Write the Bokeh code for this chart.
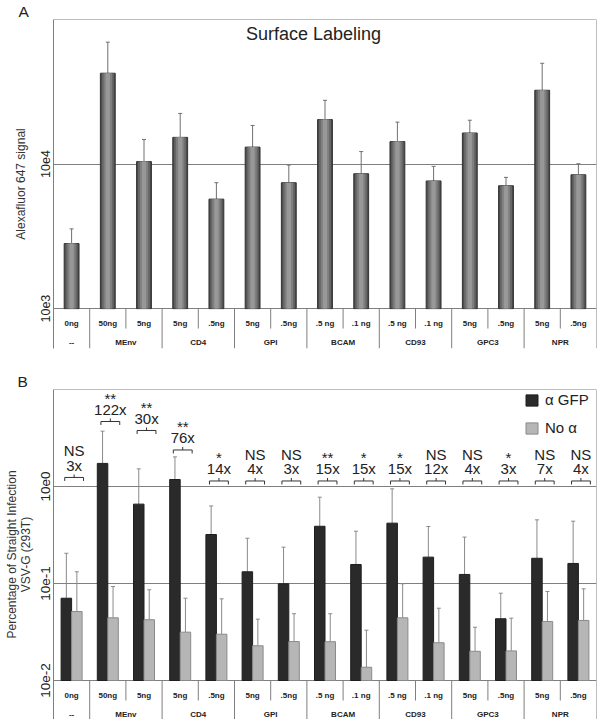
import math
from bokeh.plotting import figure
from bokeh.models import (FactorRange, Range1d, ColumnDataSource, FixedTicker, Span,
                          Label, Legend, LegendItem, Title)
from bokeh.transform import dodge
from bokeh.layouts import column
from bokeh.embed import file_html
from bokeh.resources import INLINE
from bokeh.core.properties import value

# ---------------- data ----------------
groups = ["--", "MEnv", "CD4", "GPI", "BCAM", "CD93", "GPC3", "NPR"]
doses = [["0ng"], ["50ng", "5ng"], ["5ng", ".5ng"], ["5ng", ".5ng"],
         [".5 ng", ".1 ng"], [".5 ng", ".1 ng"], ["5ng", ".5ng"], ["5ng", ".5ng"]]

# Panel A: Alexafluor 647 surface signal (mean and top of error bar)
surface_signal = [28200, 425000, 104000, 153000, 57200, 131000, 74300, 203000,
                  85700, 143000, 76400, 164000, 70800, 324000, 84300]
surface_upper = [35600, 697000, 148000, 224000, 74300, 185000, 98400, 276000,
                 122000, 195000, 96400, 201000, 80900, 498000, 100500]
a_ticks = [1e4, 1e5]
a_tick_labels = ["10e3", "10e4"]

# Panel B: percentage of straight infection
gfp_pct = [0.705, 17.3, 6.58, 11.8, 3.20, 1.32, 0.993, 3.89, 1.57, 4.19, 1.87,
           1.24, 0.433, 1.82, 1.61]
gfp_upper = [2.05, 37.2, 15.2, 20.2, 6.30, 2.93, 2.37, 7.76, 3.46, 9.46, 3.87,
             3.01, 0.794, 4.53, 4.39]
noab_pct = [0.514, 0.443, 0.423, 0.315, 0.300, 0.228, 0.252, 0.251, 0.137, 0.443,
            0.245, 0.200, 0.202, 0.406, 0.416]
noab_upper = [1.32, 0.931, 0.861, 0.705, 0.695, 0.429, 0.488, 0.488, 0.330, 0.993,
              0.556, 0.354, 0.439, 0.828, 0.881]
significance = ["NS", "**", "**", "**", "*", "NS", "NS", "**", "*", "*", "NS",
                "NS", "*", "NS", "NS"]
fold_change = ["3x", "122x", "30x", "76x", "14x", "4x", "3x", "15x", "15x", "15x",
               "12x", "4x", "3x", "7x", "4x"]
b_ticks = [0.1, 1, 10]
b_tick_labels = ["10e-2", "10e-1", "10e0"]

# annotation layout (bracket heights on the B axis)
bracket_level = [12.4, 46.8, 37.8, 23.8] + [11.4] * 11

# ---------------- layout / style ----------------
FONT_NAME = "Liberation Sans"
FONT = value(FONT_NAME)
W = 598
RIGHT = 2
PXD_A, A_TOP, A_BOTTOM, A_TABLE, A_LEFT = 145, 18, 6, 40, 52
PXD_B, B_TOP, B_BOTTOM, B_TABLE, B_LEFT = 97, 35, 0, 39, 53
GRID = "#7f7f7f"
TXT = "#222222"

factors = [(g, d) for g, ds in zip(groups, doses) for d in ds]
sep_dose = [(g, ds[0]) for g, ds in zip(groups, doses) if len(ds) > 1]
sep_group = [(g, ds[-1]) for g, ds in zip(groups, doses)][:-1]


def make_fig(letter, height, left, base, top_val, pxd, table_px, top, bottom, ticks,
             labels, tick_font, tick_standoff):
    xr = FactorRange(factors=factors, group_padding=0, factor_padding=0,
                     subgroup_padding=0, range_padding=0)
    y_start = base * 10 ** (-table_px / pxd)
    p = figure(x_range=xr, y_range=Range1d(y_start, top_val), y_axis_type="log",
               width=W, height=height, x_axis_location=None,
               output_backend="svg", toolbar_location=None,
               min_border_left=left, min_border_right=RIGHT,
               min_border_top=top, min_border_bottom=bottom,
               outline_line_color=None)
    p.title = Title(text=letter, align="left", offset=17 - left, standoff=0,
                    text_font=FONT_NAME, text_font_size="15.5px",
                    text_font_style="normal", text_color=TXT)
    p.xgrid.visible = False
    p.ygrid.ticker = FixedTicker(ticks=ticks, minor_ticks=[])
    p.ygrid.grid_line_color = GRID
    ax = p.yaxis[0]
    ax.ticker = FixedTicker(ticks=ticks, minor_ticks=[])
    ax.major_label_overrides = {float(t): l for t, l in zip(ticks, labels)}
    ax.major_label_orientation = "parallel"
    ax.major_tick_line_color = None
    ax.minor_tick_line_color = None
    ax.major_tick_out = 0
    ax.major_tick_in = 0
    ax.minor_tick_out = 0
    ax.minor_tick_in = 0
    ax.axis_line_color = GRID
    ax.major_label_text_font = FONT_NAME
    ax.major_label_text_font_size = tick_font
    ax.major_label_text_color = TXT
    ax.major_label_standoff = tick_standoff
    ax.axis_label_text_font = FONT_NAME
    ax.axis_label_text_font_style = "normal"
    ax.axis_label_text_font_size = "12px"
    ax.axis_label_text_color = "#333333"
    p.add_layout(Span(location=top_val, dimension="width", line_color=GRID, line_width=1))
    p.add_layout(Span(location=len(factors), dimension="height", line_color=GRID, line_width=1))

    # category table below the baseline
    dose_sep = ColumnDataSource(dict(f=sep_dose))
    grp_sep = ColumnDataSource(dict(f=sep_group))
    p.segment(x0=dodge("f", 0.5, range=xr), x1=dodge("f", 0.5, range=xr),
              y0=base, y1=base * 10 ** (-20 / pxd),
              source=dose_sep, line_color=GRID, line_width=1)
    p.segment(x0=dodge("f", 0.5, range=xr), x1=dodge("f", 0.5, range=xr),
              y0=base, y1=y_start, source=grp_sep, line_color=GRID, line_width=1)
    dose_src = ColumnDataSource(dict(f=factors, t=[d for _, d in factors]))
    p.text(x="f", y=base * 10 ** (-14.5 / pxd), text="t", source=dose_src,
           text_align="center", text_baseline="middle", text_font=FONT,
           text_font_style="bold", text_font_size="8px", text_color=TXT)
    grp_src = ColumnDataSource(dict(g=groups))
    p.text(x="g", y=base * 10 ** (-33.5 / pxd), text="g", source=grp_src,
           text_align="center", text_baseline="middle", text_font=FONT,
           text_font_style="bold", text_font_size="8px", text_color=TXT)
    return p, xr


# ---------------- Panel A ----------------
FA = 2 * PXD_A + A_TABLE
HA = A_TOP + FA + A_BOTTOM
pA, xa = make_fig("A", HA, A_LEFT, 1e4, 1e6, PXD_A, A_TABLE, A_TOP, A_BOTTOM, a_ticks,
                  a_tick_labels, "12.5px", 3)
srcA = ColumnDataSource(dict(f=factors, v=surface_signal, u=surface_upper))
pA.segment(x0="f", x1="f", y0="v", y1="u", source=srcA, line_color="#707070", line_width=1)
pA.segment(x0=dodge("f", -0.055, range=xa), x1=dodge("f", 0.055, range=xa), y0="u", y1="u",
           source=srcA, line_color="#707070", line_width=1)
for w, c, lc in [(0.41, "#4a4a4a", "#333333"), (0.33, "#666666", None),
                 (0.23, "#7f7f7f", None), (0.12, "#989898", None)]:
    pA.vbar(x="f", top="v", bottom=1e4, width=w, source=srcA, fill_color=c,
            line_color=lc, line_width=1)
pA.yaxis.axis_label = "Alexafluor 647 signal"
pA.yaxis.axis_label_standoff = 11
pA.add_layout(Label(x=260, y=FA - 15, x_units="screen", y_units="screen",
                    text="Surface Labeling", text_font=FONT_NAME, text_font_size="18px",
                    text_color=TXT, text_align="center", text_baseline="middle"))

# ---------------- Panel B ----------------
FB = 3 * PXD_B + B_TABLE
HB = B_TOP + FB + B_BOTTOM
pB, xb = make_fig("B", HB, B_LEFT, 0.1, 100, PXD_B, B_TABLE, B_TOP, B_BOTTOM, b_ticks,
                  b_tick_labels, "13.5px", 4)
pB.yaxis.axis_label = "Percentage of Straight Infection\nVSV-G (293T)"
pB.yaxis.axis_label_standoff = 5
pB.yaxis.axis_label_text_line_height = 0.95

BW = 0.29
srcB = ColumnDataSource(dict(f=factors, g=gfp_pct, gu=gfp_upper, n=noab_pct, nu=noab_upper))
for off, v, u in [(-BW / 2, "g", "gu"), (BW / 2, "n", "nu")]:
    pB.segment(x0=dodge("f", off, range=xb), x1=dodge("f", off, range=xb), y0=v, y1=u,
               source=srcB, line_color="#8a8a8a", line_width=1)
    pB.segment(x0=dodge("f", off - 0.055, range=xb), x1=dodge("f", off + 0.055, range=xb),
               y0=u, y1=u, source=srcB, line_color="#8a8a8a", line_width=1)
r_dark = pB.vbar(x=dodge("f", -BW / 2, range=xb), top="g", bottom=0.1, width=BW,
                 source=srcB, fill_color="#2a2a2a", line_color="#1e1e1e", line_width=1)
r_light = pB.vbar(x=dodge("f", BW / 2, range=xb), top="n", bottom=0.1, width=BW,
                  source=srcB, fill_color="#b6b6b6", line_color="#8a8a8a", line_width=1)

# significance brackets
bk = ColumnDataSource(dict(
    f=factors, lvl=bracket_level,
    lo=[b / 10 ** (3.5 / PXD_B) for b in bracket_level],
    hi=[b * 10 ** (3.0 / PXD_B) for b in bracket_level],
    sig=significance, fold=fold_change,
    soff=[-23 if s.startswith("*") else -26.5 for s in significance]))
BC, BH = 0.07, 0.26
pB.segment(x0=dodge("f", BC - BH, range=xb), x1=dodge("f", BC + BH, range=xb),
           y0="lvl", y1="lvl", source=bk, line_color="#333333", line_width=1)
for ox, yy in [(BC - BH, "lo"), (BC + BH, "lo"), (BC, "hi")]:
    pB.segment(x0=dodge("f", ox, range=xb), x1=dodge("f", ox, range=xb),
               y0="lvl", y1=yy, source=bk, line_color="#333333", line_width=1)
pB.text(x=dodge("f", BC, range=xb), y="lvl", text="fold", y_offset=-12, source=bk,
        text_align="center", text_baseline="middle", text_font=FONT,
        text_font_size="15px", text_color=TXT)
pB.text(x=dodge("f", BC, range=xb), y="lvl", text="sig", y_offset="soff", source=bk,
        text_align="center", text_baseline="middle", text_font=FONT,
        text_font_size="15px", text_color=TXT)

legend = Legend(items=[LegendItem(label="α GFP", renderers=[r_dark]),
                       LegendItem(label="No α", renderers=[r_light])],
                location=(471, FB - 1 - 46), orientation="vertical", padding=0, margin=0,
                spacing=11, glyph_width=15, glyph_height=14, label_height=14,
                label_standoff=6, label_text_font=FONT_NAME, label_text_font_size="15px",
                label_text_color=TXT, border_line_color=None, background_fill_alpha=0)
pB.add_layout(legend)

layout = column(pA, pB)
with open("out.html", "w") as fh:
    fh.write(file_html(layout, INLINE))
